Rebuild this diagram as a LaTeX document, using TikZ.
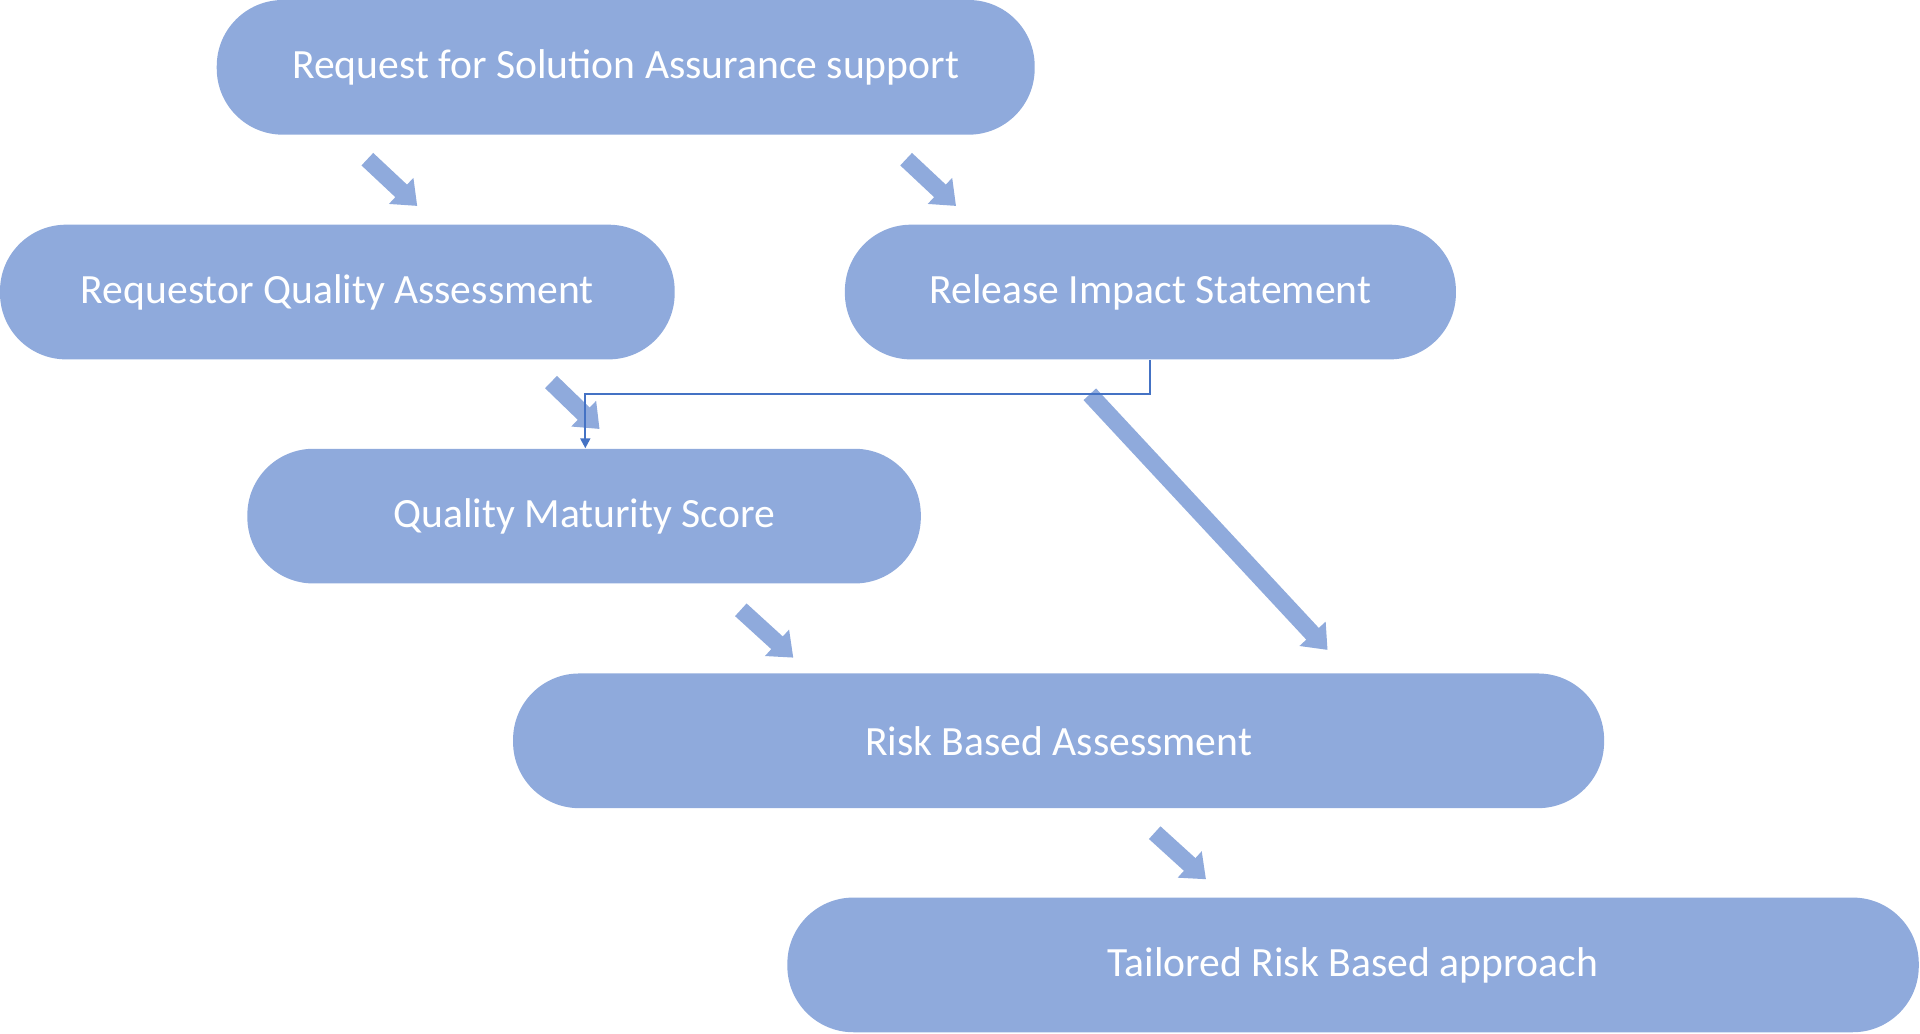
\documentclass[tikz,border=0pt]{standalone}
\usepackage{fontspec}
\setmainfont{Carlito}
\usetikzlibrary{arrows.meta}
\definecolor{boxc}{HTML}{8FAADC}
\definecolor{linec}{HTML}{4472C4}
\begin{document}
\begin{tikzpicture}[x=0.5pt,y=-0.5pt,
  box/.style={fill=boxc,draw=none,rounded corners=27pt,text=white,font=\fontsize{17}{20}\selectfont,inner sep=0pt,minimum height=55pt},
  blk/.style={draw=boxc,line width=7pt,-{Triangle[width=14pt,length=9pt]},shorten >=-6pt}]
\useasboundingbox (0,0) rectangle (1568,844);
\node[box,minimum width=334pt] (req) at (511,55) {Request for Solution Assurance support};
\node[box,minimum width=275.5pt] (rqa) at (275.5,238.5) {Requestor Quality Assessment};
\node[box,minimum width=249.5pt] (ris) at (939.5,238.5) {Release Impact Statement};
\node[box,minimum width=275pt] (qms) at (477,421.5) {Quality Maturity Score};
\node[box,minimum width=445.5pt] (rba) at (864.5,605) {Risk Based Assessment};
\node[box,minimum width=462pt] (trb) at (1105,788) {Tailored Risk Based approach};
\coordinate (a1s) at (300,130); \coordinate (a1e) at (332,160);
\coordinate (a2s) at (740,130); \coordinate (a2e) at (772,160);
\coordinate (a3s) at (450,312); \coordinate (a3e) at (481,342);
\coordinate (a4s) at (605,498); \coordinate (a4e) at (639,529);
\coordinate (a5s) at (890,322); \coordinate (a5e) at (1076,522);
\coordinate (a6s) at (943,680); \coordinate (a6e) at (976,710);
\foreach \i in {1,...,6} \draw[blk] (a\i s) -- (a\i e);
\draw[linec,line width=0.8pt,-{Triangle[width=4pt,length=4pt]}] (ris.south) -- ++(0,28) -| (qms.north -| 478,0);
\end{tikzpicture}
\end{document}
